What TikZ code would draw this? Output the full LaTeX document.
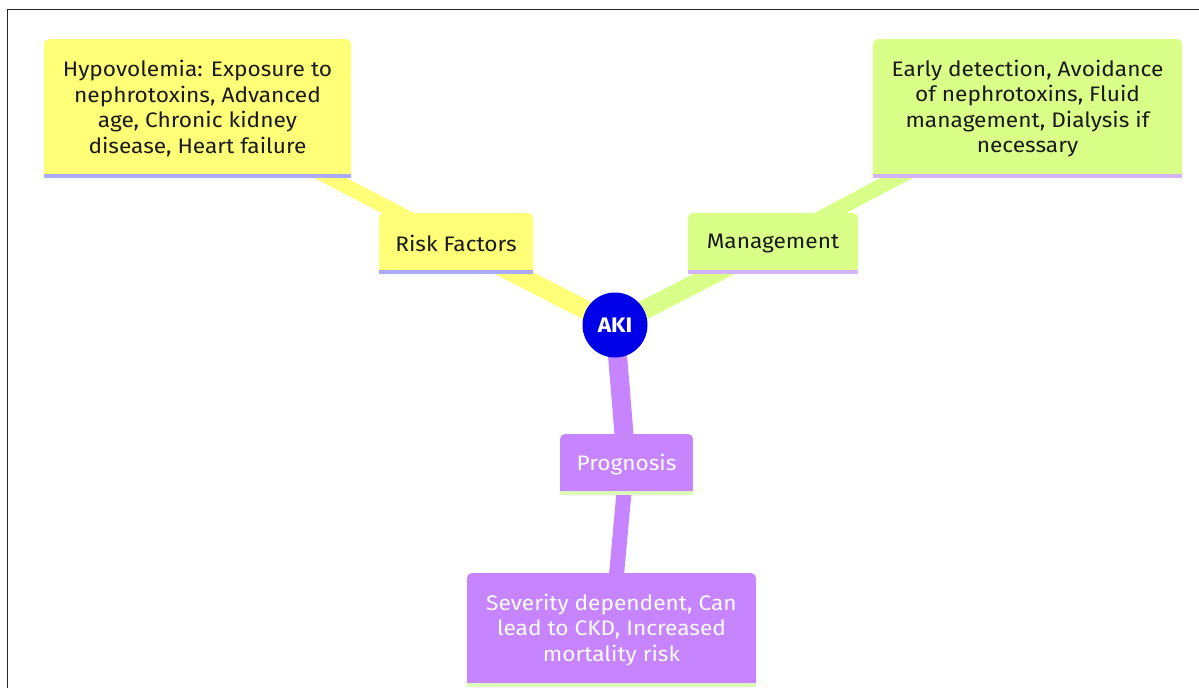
\documentclass[tikz,border=0pt]{standalone}
\usepackage{fontspec}
\setmainfont[FakeStretch=1.08]{Fira Sans}
\usetikzlibrary{calc}
\pgfdeclarelayer{edges}
\pgfdeclarelayer{under}
\pgfsetlayers{edges,under,main}
\definecolor{cy}{HTML}{FFFF78}
\definecolor{cg}{HTML}{D9FF88}
\definecolor{cp}{HTML}{C684FF}
\definecolor{ly}{HTML}{AAAAFF}
\definecolor{lg}{HTML}{D4B4FF}
\definecolor{lp}{HTML}{DCFFB8}
\definecolor{rootblue}{HTML}{0000E8}
\definecolor{txt}{HTML}{1A1A1A}
\newcommand\mmbase[3]{%
  \begin{pgfonlayer}{under}
    \fill[#2] (#1.south west) rectangle ([yshift=12pt]#1.south east);
  \end{pgfonlayer}
  \fill[#3] (#1.south west) rectangle ([yshift=4pt]#1.south east);
}
\begin{document}
\begin{tikzpicture}[x=1pt,y=-1pt,
  mmbox/.style={rounded corners=5pt, inner sep=0pt, align=center,
    font=\fontsize{21}{25.5}\selectfont},
  lvone/.style={line width=19pt},
  lvtwo/.style={line width=15pt}]
\useasboundingbox (0,0) rectangle (1199,688);
\draw[line width=1pt, black!85] (7,688) -- (7,9) -- (1199,9);

\node[circle, fill=rootblue, minimum size=65pt, inner sep=0pt, text=white,
  font=\fontsize{21}{24}\selectfont\bfseries] (root) at (615,325) {AKI};

\node[mmbox, fill=cy, text=txt, minimum width=154pt, minimum height=61pt] (rf) at (456,243.5) {Risk Factors};
\node[mmbox, fill=cy, text=txt, minimum width=307pt, minimum height=139pt] (rfd) at (197.5,108.5)
  {Hypovolemia: Exposure to\\nephrotoxins, Advanced\\age, Chronic kidney\\disease, Heart failure};

\node[mmbox, fill=cg, text=txt, minimum width=170pt, minimum height=61pt] (mg) at (773,243.5) {Management};
\node[mmbox, fill=cg, text=txt, minimum width=309pt, minimum height=139pt] (mgd) at (1027.5,108.5)
  {Early detection, Avoidance\\of nephrotoxins, Fluid\\management, Dialysis if\\necessary};

\node[mmbox, fill=cp, text=white, minimum width=133pt, minimum height=61pt] (pg) at (626.5,464.5) {Prognosis};
\node[mmbox, fill=cp, text=white, minimum width=289pt, minimum height=114pt] (pgd) at (611.5,630)
  {Severity dependent, Can\\lead to CKD, Increased\\mortality risk};

\mmbase{rf}{cy}{ly}
\mmbase{rfd}{cy}{ly}
\mmbase{mg}{cg}{lg}
\mmbase{mgd}{cg}{lg}
\mmbase{pg}{cp}{lp}
\mmbase{pgd}{cp}{lp}

\begin{pgfonlayer}{edges}
  \draw[lvone, cy] (root.center) -- (rf.center);
  \draw[lvtwo, cy] (rf.center) -- (rfd.center);
  \draw[lvone, cg] (root.center) -- (mg.center);
  \draw[lvtwo, cg] (mg.center) -- (mgd.center);
  \draw[lvone, cp] (root.center) -- (pg.center);
  \draw[lvtwo, cp] (pg.center) -- (pgd.center);
\end{pgfonlayer}
\end{tikzpicture}
\end{document}
